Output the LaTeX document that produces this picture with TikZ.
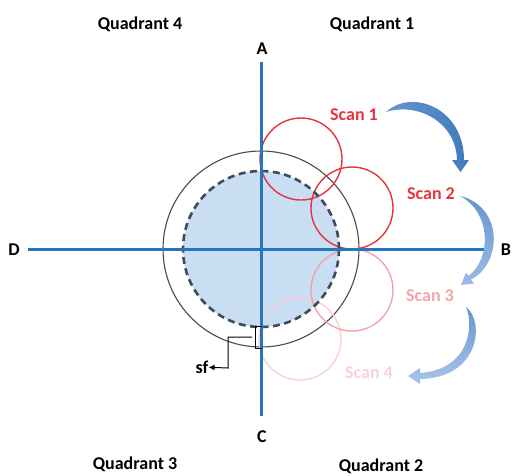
\documentclass[tikz,border=0pt]{standalone}
\usepackage{fontspec}
\setmainfont{Carlito}
\usetikzlibrary{arrows.meta}
\definecolor{axisblue}{HTML}{2577BD}
\definecolor{fillblue}{HTML}{C9DEF2}
\definecolor{dashgray}{HTML}{3E4B5A}
\definecolor{outergray}{HTML}{4A4A4A}
\definecolor{scanA}{HTML}{E8333F}
\definecolor{scanB}{HTML}{E8333F}
\definecolor{scanC}{HTML}{F4A3AA}
\definecolor{scanD}{HTML}{F9D2D6}
\definecolor{arrDark}{HTML}{3F7BBE}
\definecolor{arrMid}{HTML}{6596CF}
\definecolor{arrLight}{HTML}{A9C5E8}
\begin{document}
\begin{tikzpicture}[x=1pt,y=-1pt,
  lbl/.style={font=\fontsize{18}{21}\selectfont\bfseries, inner sep=0pt},
  axisline/.style={draw=axisblue, line width=3pt},
  scancirc/.style={line width=1.4pt}]
\useasboundingbox (0,0) rectangle (514,475);
\coordinate (O) at (261,249);
% shell
\fill[fillblue] (O) circle (78);
\draw[outergray, line width=1.1pt] (O) circle (98);
% scan circles
\coordinate (S1c) at (301,159);
\coordinate (S2c) at (352,208);
\coordinate (S3c) at (352,290);
\coordinate (S4c) at (300,339);
\draw[scancirc, draw=scanD] (S4c) circle (41);
\draw[scancirc, draw=scanC] (S3c) circle (41);
\draw[scancirc, draw=scanB] (S2c) circle (41);
\draw[scancirc, draw=scanA] (S1c) circle (41);
\draw[dashgray, line width=2.6pt, dash pattern=on 7pt off 4.5pt] (O) circle (78);
% axes
\coordinate (Atop) at (261,62);
\coordinate (Cbot) at (261,416);
\coordinate (Dl) at (28,249);
\coordinate (Br) at (492,249);
\draw[axisline] (Atop) -- (Cbot);
\draw[axisline] (Dl) -- (Br);
% labels
\node[lbl] (A) at (262,49) {A};
\node[lbl] (C) at (262,437) {C};
\node[lbl] (D) at (14,250) {D};
\node[lbl] (B) at (506,250) {B};
\node[lbl] (Q4) at (140,24) {Quadrant 4};
\node[lbl] (Q1) at (372,24) {Quadrant 1};
\node[lbl] (Q3) at (135,464) {Quadrant 3};
\node[lbl] (Q2) at (381,466) {Quadrant 2};
\node[lbl, text=scanA] (L1) at (354,115) {Scan 1};
\node[lbl, text=scanB] (L2) at (431,194) {Scan 2};
\node[lbl, text=scanC] (L3) at (430,296) {Scan 3};
\node[lbl, text=scanD] (L4) at (369,373) {Scan 4};
% curved arrows
\shade[left color=arrMid, right color=arrDark]
  (386,112) .. controls (412,88) and (464,108) .. (464,160)
  -- (469,160) -- (460.5,172) -- (452,160) -- (457,160)
  .. controls (456,122) and (418,102) .. (386,112) -- cycle;
\shade[top color=arrMid, bottom color=arrLight!80!arrMid]
  (460,196) .. controls (503,206) and (503,263) .. (471,279.5)
  -- (474,283.5) -- (461,285) -- (466,272.5) -- (468.5,276)
  .. controls (492,258) and (491,212) .. (460,196) -- cycle;
\shade[top color=arrMid, bottom color=arrLight]
  (466,307) .. controls (485,321) and (480,378) .. (420,379)
  -- (420,384) -- (408,376) -- (420,368) -- (420,373)
  .. controls (470,369) and (474,326) .. (466,307) -- cycle;
% sf marker
\draw[black, line width=1pt] (262,326) -- (255,326) -- (255,348) -- (262,348);
\node[lbl] (sf) at (202,367) {sf};
\coordinate (sfa) at (252,337);
\coordinate (sfb) at (228,337);
\coordinate (sfc) at (228,368);
\draw[black, line width=1pt, -{Latex[length=6pt,width=6pt]}] (sfa) -- (sfb) -- (sfc) -- (sf);
\end{tikzpicture}
\end{document}
